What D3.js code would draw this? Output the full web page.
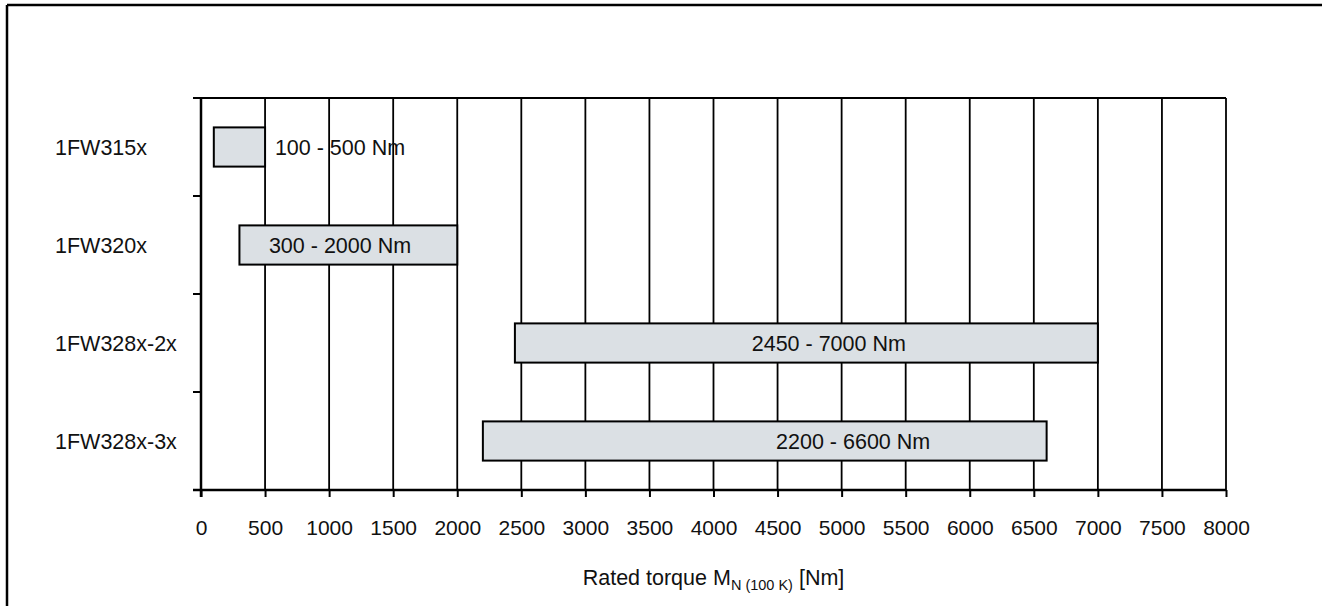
<!DOCTYPE html>
<html>
<head>
<meta charset="utf-8">
<script src="https://cdn.jsdelivr.net/npm/d3@7"></script>
<style>
  html, body { margin: 0; padding: 0; background: #fff; }
  svg { display: block; }
  text { font-family: "Liberation Sans", Arial, sans-serif; fill: #111; }
</style>
</head>
<body>
<svg id="chart" width="1322" height="606"></svg>
<script>
// ---- data ----
const categories = ["1FW315x", "1FW320x", "1FW328x-2x", "1FW328x-3x"];
const rangeStart = [100, 300, 2450, 2200];
const rangeEnd   = [500, 2000, 7000, 6600];
const barLabels  = ["100 - 500 Nm", "300 - 2000 Nm", "2450 - 7000 Nm", "2200 - 6600 Nm"];
const labelAt    = [1085, 1085, 4900, 5090];   // label centre, in Nm
const xTicks = [0,500,1000,1500,2000,2500,3000,3500,4000,4500,5000,5500,6000,6500,7000,7500,8000];

(function () {
// ---- layout ----
const W = 1322, H = 606;
const pL = 201, pR = 1226, pT = 98, pB = 490;
const fs = 21;

const svg = d3.select("#chart");

const x = d3.scaleLinear().domain([0, 8000]).range([pL, pR]);
const y = d3.scaleBand().domain(categories).range([pT, pB]).padding(0);
const bw = y.bandwidth();
const barH = bw * 0.4;

// outer frame (top + left)
svg.append("line").attr("x1", 7).attr("x2", W).attr("y1", 5).attr("y2", 5)
  .attr("stroke", "#000").attr("stroke-width", 2.5);
svg.append("line").attr("x1", 7).attr("x2", 7).attr("y1", 5).attr("y2", H)
  .attr("stroke", "#000").attr("stroke-width", 2.5);

// vertical gridlines
svg.append("g").selectAll("line").data(xTicks).join("line")
  .attr("x1", d => x(d)).attr("x2", d => x(d))
  .attr("y1", pT).attr("y2", pB)
  .attr("stroke", "#000").attr("stroke-width", 1.8);

// top line
svg.append("line").attr("x1", pL - 8).attr("x2", pR).attr("y1", pT).attr("y2", pT)
  .attr("stroke", "#000").attr("stroke-width", 2.2);

// bottom axis
const xAxis = d3.axisBottom(x).tickValues(xTicks).tickSize(7).tickSizeOuter(0).tickFormat(d3.format("d"));
const gx = svg.append("g").attr("transform", `translate(0,${pB})`).call(xAxis);
gx.select(".domain").remove();
gx.selectAll(".tick line").attr("stroke", "#000").attr("stroke-width", 2);
gx.selectAll(".tick text")
  .attr("y", 45).attr("dy", null)
  .style("font-size", fs + "px")
  .style("font-family", "'Liberation Sans', Arial, sans-serif")
  .attr("fill", "#111");
svg.append("line").attr("x1", pL - 8).attr("x2", pR).attr("y1", pB).attr("y2", pB)
  .attr("stroke", "#000").attr("stroke-width", 2.5);

// left axis line and band-boundary ticks
svg.append("line").attr("x1", pL).attr("x2", pL).attr("y1", pT).attr("y2", pB + 7)
  .attr("stroke", "#000").attr("stroke-width", 2.5);
const boundaries = categories.slice(1).map(c => y(c));
svg.append("g").selectAll("line").data(boundaries).join("line")
  .attr("x1", pL - 8).attr("x2", pL).attr("y1", d => d).attr("y2", d => d)
  .attr("stroke", "#000").attr("stroke-width", 2);

// category labels
svg.append("g").selectAll("text").data(categories).join("text")
  .attr("x", 55).attr("y", d => y(d) + bw / 2 + 8)
  .style("font-size", "21.5px")
  .text(d => d);

// bars
const rows = categories.map((c, i) => ({ c, s: rangeStart[i], e: rangeEnd[i], lab: barLabels[i], at: labelAt[i] }));
svg.append("g").selectAll("rect").data(rows).join("rect")
  .attr("x", d => x(d.s)).attr("width", d => x(d.e) - x(d.s))
  .attr("y", d => y(d.c) + (bw - barH) / 2).attr("height", barH)
  .attr("fill", "#dbe0e4").attr("stroke", "#000").attr("stroke-width", 2);

// bar labels
svg.append("g").selectAll("text").data(rows).join("text")
  .attr("x", d => x(d.at)).attr("y", d => y(d.c) + bw / 2 + 7.5)
  .attr("text-anchor", "middle")
  .style("font-size", "21.5px")
  .text(d => d.lab);

// x-axis title
const title = svg.append("text").attr("x", (pL + pR) / 2).attr("y", 585)
  .attr("text-anchor", "middle").style("font-size", "21.5px");
title.append("tspan").text("Rated torque M");
title.append("tspan").attr("dy", 5).style("font-size", "14.5px").text("N (100 K)");
title.append("tspan").attr("dy", -5).text(" [Nm]");
})();
</script>
</body>
</html>
